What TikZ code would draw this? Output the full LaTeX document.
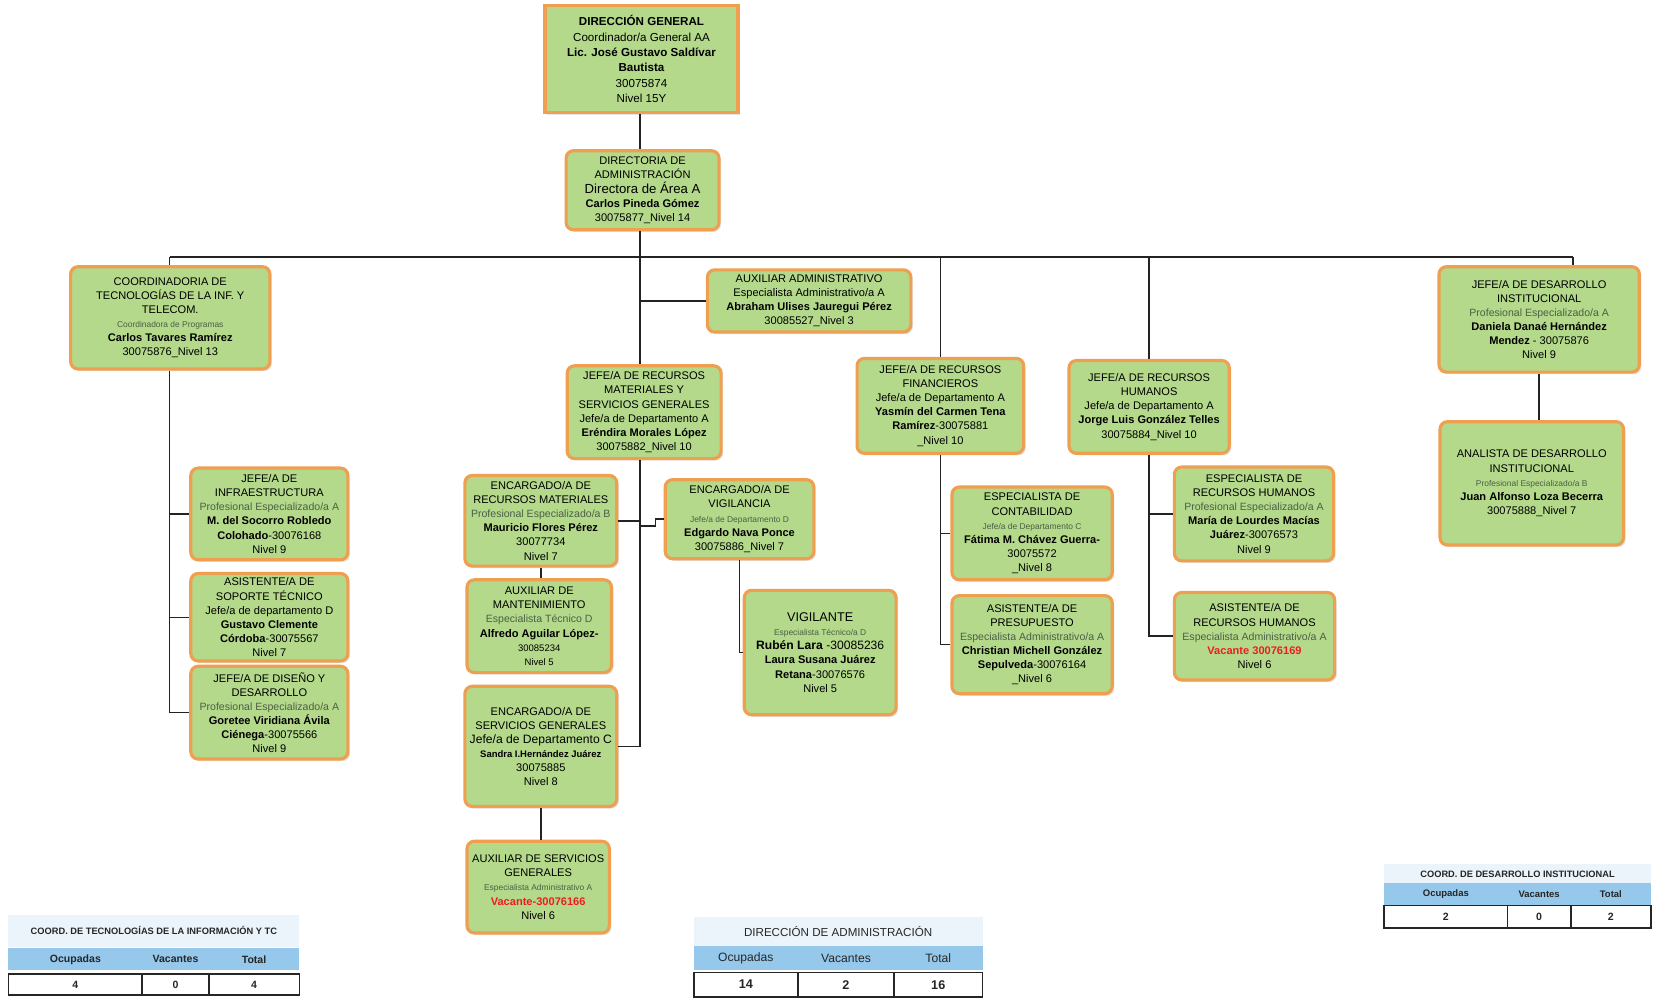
\documentclass[tikz,border=0pt]{standalone}
\usepackage{fontspec}
\setmainfont{Liberation Sans}
\usetikzlibrary{shadows}
\definecolor{boxgreen}{RGB}{180,217,139}
\definecolor{boxorange}{RGB}{238,160,80}
\definecolor{hdrblue}{RGB}{150,200,236}
\definecolor{ttlblue}{RGB}{235,244,251}
\definecolor{vacred}{RGB}{235,30,30}
\definecolor{lnc}{RGB}{35,35,35}
\definecolor{lighttxt}{RGB}{75,95,70}
\newcommand\tinyl[1]{{\fontsize{8}{9}\selectfont\color{lighttxt}#1}}
\newcommand\smalll[1]{{\fontsize{9}{10}\selectfont #1}}
\newcommand\lightl[1]{{\fontsize{10}{11}\selectfont\color{lighttxt}#1}}
\newcommand\largel[1]{{\fontsize{11.5}{12}\selectfont #1}}
\newcommand\vac[1]{{\color{vacred}\bfseries #1}}
\newcommand\orgnode[7]{\node[orgbox,#1,minimum width={(#4-#3)*1pt},minimum height={(#6-#5)*1pt}] (#2) at ({(#3+#4)/2},{(#5+#6)/2}) {#7};}
\tikzset{
  orgbox/.style={draw=boxorange, line width=3pt, fill=boxgreen, rounded corners=7pt,
    align=center, inner sep=1pt, text=black, font=\fontsize{10.5}{13.4}\selectfont,
    drop shadow={opacity=0.2, shadow xshift=2pt, shadow yshift=-2pt}},
  link/.style={draw=lnc, line width=1.4pt},
  tcell/.style={inner sep=0pt, text=black!85, font=\fontsize{10}{11}\selectfont\bfseries},
  thead/.style={tcell, fill=hdrblue},
  tval/.style={tcell, fill=white, draw=black!85, line width=1.6pt},
  ttitle/.style={tcell, fill=ttlblue},
}
\begin{document}
\begin{tikzpicture}[x=1pt,y=-1pt]
\useasboundingbox[fill=white] (0,0) rectangle (1568,947.6);

% boxes
\orgnode{rounded corners=0pt, font=\fontsize{11}{14.5}\selectfont}{dg}{517}{700}{5}{107}{\textbf{DIRECCIÓN GENERAL}\\Coordinador/a General AA\\\textbf{Lic. José Gustavo Saldívar}\\\textbf{Bautista}\\30075874\\Nivel 15Y}
\orgnode{}{da}{537}{682}{143}{218}{DIRECTORIA DE\\ADMINISTRACIÓN\\{\fontsize{12.5}{13}\selectfont Directora de Área A}\\\textbf{Carlos Pineda Gómez}\\30075877\_Nivel 14}
\orgnode{}{ct}{67}{256}{253}{350}{COORDINADORIA DE\\TECNOLOGÍAS DE LA INF. Y\\TELECOM.\\\tinyl{Coordinadora de Programas}\\\textbf{Carlos Tavares Ramírez}\\30075876\_Nivel 13}
\orgnode{}{aa}{671}{864}{256}{315}{AUXILIAR ADMINISTRATIVO\\Especialista Administrativo/a A\\\textbf{Abraham Ulises Jauregui Pérez}\\30085527\_Nivel 3}
\orgnode{}{jdi}{1365}{1555}{253}{353}{JEFE/A DE DESARROLLO\\INSTITUCIONAL\\\lightl{Profesional Especializado/a A}\\\textbf{Daniela Danaé Hernández}\\\textbf{Mendez} - 30075876\\Nivel 9}
\orgnode{}{adi}{1366}{1540}{400}{517}{ANALISTA DE DESARROLLO\\INSTITUCIONAL\\\tinyl{Profesional Especializado/a B}\\\textbf{Juan Alfonso Loza Becerra}\\30075888\_Nivel 7}
\orgnode{}{jrm}{538}{684}{347}{435}{JEFE/A DE RECURSOS\\MATERIALES Y\\SERVICIOS GENERALES\\Jefe/a de Departamento A\\\textbf{Eréndira Morales López}\\30075882\_Nivel 10}
\orgnode{}{jrf}{813}{971}{340}{430}{JEFE/A DE RECURSOS\\FINANCIEROS\\Jefe/a de Departamento A\\\textbf{Yasmín del Carmen Tena}\\\textbf{Ramírez}-30075881\\\_Nivel 10}
\orgnode{}{jrh}{1014}{1166}{342}{430}{JEFE/A DE RECURSOS\\HUMANOS\\Jefe/a de Departamento A\\\textbf{Jorge Luis González Telles}\\30075884\_Nivel 10}
\orgnode{}{jin}{181}{330}{444}{531}{JEFE/A DE\\INFRAESTRUCTURA\\\lightl{Profesional Especializado/a A}\\\textbf{M. del Socorro Robledo}\\\textbf{Colohado}-30076168\\Nivel 9}
\orgnode{}{ast}{181}{330}{544}{627}{ASISTENTE/A DE\\SOPORTE TÉCNICO\\Jefe/a de departamento D\\\textbf{Gustavo Clemente}\\\textbf{Córdoba}-30075567\\Nivel 7}
\orgnode{}{jdd}{181}{330}{632}{720}{JEFE/A DE DISEÑO Y\\DESARROLLO\\\lightl{Profesional Especializado/a A}\\\textbf{Goretee Viridiana Ávila}\\\textbf{Ciénega}-30075566\\Nivel 9}
\orgnode{}{erm}{441}{585}{451}{537}{ENCARGADO/A DE\\RECURSOS MATERIALES\\\lightl{Profesional Especializado/a B}\\\textbf{Mauricio Flores Pérez}\\30077734\\Nivel 7}
\orgnode{}{amt}{443}{580}{550}{638}{AUXILIAR DE\\MANTENIMIENTO\\\lightl{Especialista Técnico D}\\\textbf{Alfredo Aguilar López-}\\\smalll{30085234}\\\smalll{Nivel 5}}
\orgnode{}{evg}{631}{772}{455}{530}{ENCARGADO/A DE\\VIGILANCIA\\\tinyl{Jefe/a de Departamento D}\\\textbf{Edgardo Nava Ponce}\\30075886\_Nivel 7}
\orgnode{}{vig}{706}{850}{560}{678}{{\fontsize{12}{13}\selectfont VIGILANTE}\\\tinyl{Especialista Técnico/a D}\\\largel{\textbf{Rubén Lara} -30085236}\\\textbf{Laura Susana Juárez}\\\textbf{Retana}-30076576\\Nivel 5}
\orgnode{}{esg}{441}{585}{651}{765}{ENCARGADO/A DE\\SERVICIOS GENERALES\\\largel{Jefe/a de Departamento C}\\\smalll{\textbf{Sandra I.Hernández Juárez}}\\30075885\\Nivel 8}
\orgnode{}{asg}{443}{578}{798}{885}{AUXILIAR DE SERVICIOS\\GENERALES\\\tinyl{Especialista Administrativo A}\\\vac{Vacante-30076166}\\Nivel 6}
\orgnode{}{eco}{903}{1055}{462}{550}{ESPECIALISTA DE\\CONTABILIDAD\\\tinyl{Jefe/a de Departamento C}\\\textbf{Fátima M. Chávez Guerra-}\\30075572\\\_Nivel 8}
\orgnode{}{apr}{903}{1055}{565}{658}{ASISTENTE/A DE\\PRESUPUESTO\\\lightl{Especialista Administrativo/a A}\\\textbf{Christian Michell González}\\\textbf{Sepulveda}-30076164\\\_Nivel 6}
\orgnode{}{erh}{1114}{1265}{443}{532}{ESPECIALISTA DE\\RECURSOS HUMANOS\\\lightl{Profesional Especializado/a A}\\\textbf{María de Lourdes Macías}\\\textbf{Juárez}-30076573\\Nivel 9}
\orgnode{}{arh}{1114}{1266}{562}{645}{ASISTENTE/A DE\\RECURSOS HUMANOS\\\lightl{Especialista Administrativo/a A}\\\vac{Vacante 30076169}\\Nivel 6}

% connectors
\coordinate (spine) at (607,0);
\coordinate (busL) at (161,244);
\coordinate (busR) at (1492,244);
\coordinate (vstep) at (622,499);
\draw[link] (busL) -- (busR);
\draw[link] (spine |- dg.south) -- (spine |- da.north);
\draw[link] (spine |- da.south) -- (spine |- jrm.north);
\draw[link] (aa.west) -- (aa.west -| spine);
\draw[link] (ct.north -| busL) -- (busL);
\draw[link] (jrf.north) -- (jrf.north |- busL);
\draw[link] (jrh.north) -- (jrh.north |- busL);
\draw[link] (busR) -- (busR |- jdi.north);
\draw[link] (jdi.south) -- (jdi.south |- adi.north);
% tecnologias
\draw[link] (ct.south -| busL) -- (busL |- jdd.west) -- (jdd.west);
\draw[link] (busL |- jin.west) -- (jin.west);
\draw[link] (busL |- ast.west) -- (ast.west);
% materiales
\draw[link] (spine |- jrm.south) -- (spine |- esg.east) -- (esg.east);
\draw[link] (erm.east) -- (erm.east -| spine);
\draw[link] (spine |- vstep) -- (vstep) |- (evg.west);
\draw[link] (erm.south) -- (erm.south |- amt.north);
\draw[link] (evg.south) |- (vig.west);
\draw[link] (esg.south) -- (esg.south |- asg.north);
% financieros
\draw[link] (jrf.south) -- (jrf.south |- apr.west) -- (apr.west);
\draw[link] (jrf.south |- eco.west) -- (eco.west);
% humanos
\draw[link] (jrh.south) -- (jrh.south |- arh.west) -- (arh.west);
\draw[link] (jrh.south |- erh.west) -- (erh.west);

% tables
% left
\node[ttitle, minimum width=276pt, minimum height=30pt, font=\fontsize{8.8}{10}\selectfont\bfseries] (t1t) at (146,883) {COORD. DE TECNOLOGÍAS DE LA INFORMACIÓN Y TC};
\node[thead, minimum width=127pt, minimum height=21pt] (t1h1) at (71.5,910) {Ocupadas};
\node[thead, minimum width=63pt, minimum height=21pt] (t1h2) at (166.5,910) {Vacantes};
\node[thead, minimum width=86pt, minimum height=21pt] (t1h3) at (241,910) {Total};
\node[tval, minimum width=127pt, minimum height=20pt] (t1v1) at (71.5,934) {4};
\node[tval, minimum width=63pt, minimum height=20pt] (t1v2) at (166.5,934) {0};
\node[tval, minimum width=86pt, minimum height=20pt] (t1v3) at (241,934) {4};
% center
\node[ttitle, minimum width=274pt, minimum height=27pt, font=\fontsize{11}{12}\selectfont] (t2t) at (795,883.5) {DIRECCIÓN DE ADMINISTRACIÓN};
\node[thead, minimum width=99pt, minimum height=23pt, font=\fontsize{11.5}{12}\selectfont] (t2h1) at (707.5,909) {Ocupadas};
\node[thead, minimum width=91pt, minimum height=23pt, font=\fontsize{11.5}{12}\selectfont] (t2h2) at (802.5,909) {Vacantes};
\node[thead, minimum width=84pt, minimum height=23pt, font=\fontsize{11.5}{12}\selectfont] (t2h3) at (890,909) {Total};
\node[tval, minimum width=99pt, minimum height=23pt, font=\fontsize{12}{13}\selectfont\bfseries] (t2v1) at (707.5,934) {14};
\node[tval, minimum width=91pt, minimum height=23pt, font=\fontsize{12}{13}\selectfont\bfseries] (t2v2) at (802.5,934) {2};
\node[tval, minimum width=84pt, minimum height=23pt, font=\fontsize{12}{13}\selectfont\bfseries] (t2v3) at (890,934) {16};
% right
\node[ttitle, minimum width=253pt, minimum height=18pt, font=\fontsize{8.8}{10}\selectfont\bfseries] (t3t) at (1439.5,829) {COORD. DE DESARROLLO INSTITUCIONAL};
\node[thead, minimum width=117pt, minimum height=20pt, font=\fontsize{9}{10}\selectfont\bfseries] (t3h1) at (1371.5,848) {Ocupadas};
\node[thead, minimum width=60pt, minimum height=20pt, font=\fontsize{9}{10}\selectfont\bfseries] (t3h2) at (1460,848) {Vacantes};
\node[thead, minimum width=76pt, minimum height=20pt, font=\fontsize{9}{10}\selectfont\bfseries] (t3h3) at (1528,848) {Total};
\node[tval, minimum width=117pt, minimum height=21pt] (t3v1) at (1371.5,869.5) {2};
\node[tval, minimum width=60pt, minimum height=21pt] (t3v2) at (1460,869.5) {0};
\node[tval, minimum width=76pt, minimum height=21pt] (t3v3) at (1528,869.5) {2};
\end{tikzpicture}
\end{document}
